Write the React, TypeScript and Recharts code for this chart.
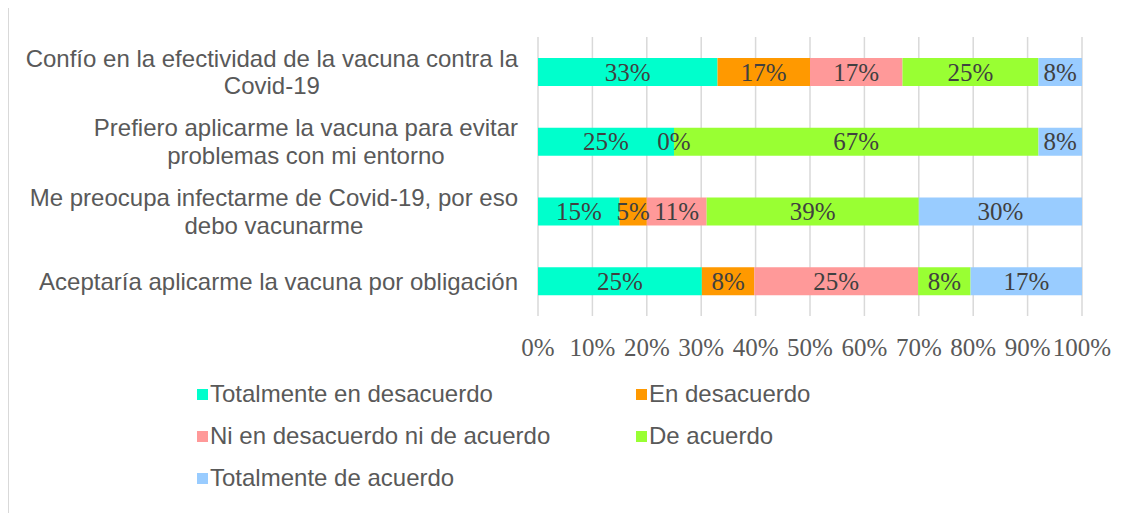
import React from "react";
import { BarChart, Bar, XAxis, YAxis, CartesianGrid, LabelList, Legend, ReferenceDot } from "recharts";

const categoryLines: string[][] = [
  ["Confío en la efectividad de la vacuna contra la", "Covid-19"],
  ["Prefiero aplicarme la vacuna para evitar", "problemas con mi entorno"],
  ["Me preocupa infectarme de Covid-19, por eso", "debo vacunarme"],
  ["Aceptaría aplicarme la vacuna por obligación"],
];
const categories = categoryLines.map((l) => l.join(" "));

const totalDesacuerdo = [33, 25, 15, 25];
const enDesacuerdo = [17, 0, 5, 8];
const niNi = [17, 0, 11, 25];
const deAcuerdo = [25, 67, 39, 8];
const totalAcuerdo = [8, 8, 30, 17];

const xTicks = [0, 0.1, 0.2, 0.3, 0.4, 0.5, 0.6, 0.7, 0.8, 0.9, 1];

const seriesDefs = [
  { key: "td", name: "Totalmente en desacuerdo", color: "#00FFCC", values: totalDesacuerdo },
  { key: "ed", name: "En desacuerdo", color: "#FF9900", values: enDesacuerdo },
  { key: "ni", name: "Ni en desacuerdo ni de acuerdo", color: "#FF9999", values: niNi },
  { key: "da", name: "De acuerdo", color: "#99FF33", values: deAcuerdo },
  { key: "ta", name: "Totalmente de acuerdo", color: "#99CCFF", values: totalAcuerdo },
];

const data = categories.map((c, i) => {
  const row: any = { cat: c };
  seriesDefs.forEach((s) => (row[s.key] = s.values[i]));
  return row;
});

// positions (in the expanded 0..1 domain) of zero-valued segments, for their "0%" labels
const zeroLabels: { cat: string; pos: number; id: string }[] = [];
categories.forEach((c, i) => {
  const total = seriesDefs.reduce((a, s) => a + s.values[i], 0);
  let cum = 0;
  const seen = new Set<number>();
  seriesDefs.forEach((s) => {
    const v = s.values[i];
    if (v === 0) {
      const pos = cum / total;
      if (!seen.has(pos)) {
        seen.add(pos);
        zeroLabels.push({ cat: c, pos, id: `${i}-${s.key}` });
      }
    }
    cum += v;
  });
});

const SANS = "'Liberation Sans', Arial, sans-serif";
const SERIF = "'Liberation Serif', 'Times New Roman', serif";

let ctx: CanvasRenderingContext2D | null = null;
const measure = (t: string) => {
  if (!ctx) {
    const c = document.createElement("canvas");
    ctx = c.getContext("2d");
  }
  if (!ctx) return t.length * 11;
  ctx.font = `24px ${SANS}`;
  return ctx.measureText(t).width;
};

const YTick = (props: any) => {
  const { x, y, payload } = props;
  const lines = categoryLines[payload.index] || [String(payload.value)];
  const maxW = Math.max(...lines.map(measure));
  const cx = x - maxW / 2;
  const n = lines.length;
  return (
    <g>
      {lines.map((l, i) => (
        <text
          key={i}
          x={cx}
          y={y + (i - (n - 1) / 2) * 27.5}
          dy={8.5}
          textAnchor="middle"
          fill="#595959"
          fontSize={24}
          fontFamily={SANS}
        >
          {l}
        </text>
      ))}
    </g>
  );
};

const BarLabel = (p: any) => {
  const { x, y, width, height, value } = p;
  if (value === undefined || value === null) return null;
  const w = Number(width) || 0;
  const h = Number(height) || 0;
  return (
    <text
      x={Number(x) + w / 2}
      y={Number(y) + h / 2}
      dy={8.5}
      textAnchor="middle"
      fill="#404040"
      fontSize={25}
      fontFamily={SERIF}
    >
      {`${value}%`}
    </text>
  );
};

const ZeroLabel = (p: any) => {
  const vb = p.viewBox || {};
  const cx = vb.x !== undefined ? vb.x + (vb.width || 0) / 2 : p.x;
  const cy = vb.y !== undefined ? vb.y + (vb.height || 0) / 2 : p.y;
  return (
    <text x={cx} y={cy} dy={8.5} textAnchor="middle" fill="#404040" fontSize={25} fontFamily={SERIF}>
      0%
    </text>
  );
};

const LegendContent = () => (
  <div
    style={{
      display: "grid",
      gridTemplateColumns: "439px 1fr",
      paddingLeft: 188,
      fontFamily: SANS,
      fontSize: 24,
      color: "#595959",
    }}
  >
    {seriesDefs.map((s) => (
      <div key={s.key} style={{ display: "flex", alignItems: "center", height: 42, whiteSpace: "nowrap" }}>
        <span style={{ display: "inline-block", width: 11, height: 11, background: s.color, marginRight: 2 }} />
        <span>{s.name}</span>
      </div>
    ))}
  </div>
);

export default function App() {
  return (
    <div
      style={{
        marginTop: -1,
        width: 1128,
        height: 505,
        borderLeft: "1px solid #d9d9d9",
        borderTop: "1px solid #d9d9d9",
        background: "#fff",
        position: "relative",
      }}
    >
      <BarChart
        width={1128}
        height={505}
        data={data}
        layout="vertical"
        stackOffset="expand"
        barSize={28}
        margin={{ top: 29, right: 55, bottom: 137, left: 0 }}
      >
        <CartesianGrid horizontal={false} stroke="#d9d9d9" strokeWidth={1.5} />
        <XAxis
          type="number"
          domain={[0, 1]}
          ticks={xTicks}
          tickFormatter={(v: number) => `${Math.round(v * 100)}%`}
          axisLine={false}
          tickLine={false}
          tickMargin={16}
          height={60}
          tick={{ fill: "#595959", fontSize: 25, fontFamily: SERIF }}
          interval={0}
        />
        <YAxis
          type="category"
          dataKey="cat"
          width={529}
          axisLine={false}
          tickLine={false}
          tickMargin={14}
          tick={<YTick />}
          interval={0}
        />
        <Legend
          layout="vertical"
          align="center"
          verticalAlign="middle"
          content={<LegendContent />}
          wrapperStyle={{ position: "absolute", left: 0, top: 365, width: 1128 }}
        />
        {seriesDefs.map((s) => (
          <Bar key={s.key} dataKey={s.key} name={s.name} stackId="a" fill={s.color} isAnimationActive={false}>
            <LabelList dataKey={s.key} content={<BarLabel />} />
          </Bar>
        ))}
        {zeroLabels.map((z) => (
          <ReferenceDot
            key={z.id}
            x={z.pos}
            y={z.cat}
            r={0}
            fill="none"
            stroke="none"
            ifOverflow="visible"
            label={<ZeroLabel />}
          />
        ))}
      </BarChart>
    </div>
  );
}
